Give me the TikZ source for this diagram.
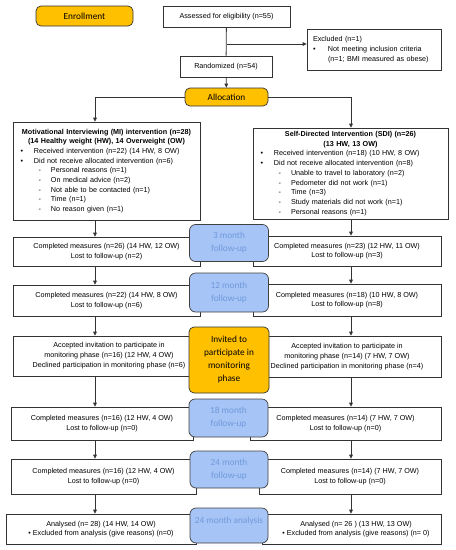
\documentclass[tikz,border=0pt]{standalone}
\usepackage{fontspec}
\setmainfont{Liberation Sans}
\newfontfamily\calib{Carlito}
\usepackage{xcolor}
\usetikzlibrary{arrows.meta,positioning}
\definecolor{arancio}{HTML}{FFC000}
\definecolor{azzurro}{HTML}{A6C4F6}
\definecolor{testoblu}{HTML}{6F9ADC}
\definecolor{linea}{HTML}{333333}
\newcommand{\bul}{\hspace*{7.5pt}\makebox[13.5pt][l]{•}}
\newcommand{\dsh}{\hspace*{25.5pt}\makebox[12.5pt][l]{-}}

\begin{document}
\begin{tikzpicture}[x=1pt,y=-1pt,
    wbox/.style={draw=linea, fill=white, line width=0.7pt, inner sep=1pt, align=center,
      font=\fontsize{7.2}{9.7}\selectfont},
    obox/.style={draw=black!80, fill=arancio, line width=0.7pt, rounded corners=5pt,
      align=center, font=\calib\fontsize{9.3}{13}\selectfont},
    bbox/.style={draw=black!75, fill=azzurro, line width=0.7pt, rounded corners=6pt,
      align=center, text=testoblu, font=\calib\fontsize{9.3}{13}\selectfont},
    arr/.style={-{Triangle[length=4pt,width=3.6pt]}, draw=linea, line width=0.8pt},
    lin/.style={draw=linea, line width=0.8pt}]
  \useasboundingbox (0,0) rectangle (456,550);
  % colonne delle frecce
  \coordinate (lx) at (95,0);
  \coordinate (rx) at (351,0);
  % iscrizione
  \node[obox, minimum width=97pt, minimum height=20pt] (enroll) at (84.5,16) {Enrollment};
  \node[wbox, minimum width=127pt, minimum height=21pt] (assess) at (226.5,16.5) {Assessed for eligibility (n=55)};
  \node[wbox, minimum width=134pt, minimum height=41pt, text width=122pt, inner xsep=6pt, align=left,
    font=\fontsize{7.2}{10}\selectfont] (excl) at (374,49.5)
    {Excluded (n=1)\\\makebox[15pt][l]{•}Not meeting inclusion criteria\\\hspace*{15pt}(n=1; BMI measured as obese)};
  \node[wbox, minimum width=92pt, minimum height=21pt] (rand) at (226,66.5) {Randomized (n=54)};
  \node[obox, minimum width=83pt, minimum height=18pt] (alloc) at (226.5,97) {Allocation};
  % gruppi
  \node[wbox, minimum width=187pt, minimum height=98pt, text width=187pt, inner xsep=0pt, align=left] (mi) at (106.5,171)
    {{\centering\bfseries Motivational Interviewing (MI) intervention (n=28)\\(14 Healthy weight (HW), 14 Overweight (OW)\par}
    \bul Received intervention (n=22) (14 HW, 8 OW)\\
    \bul Did not receive allocated intervention (n=6)\\
    \dsh Personal reasons (n=1)\\
    \dsh On medical advice (n=2)\\
    \dsh Not able to be contacted (n=1)\\
    \dsh Time (n=1)\\
    \dsh No reason given (n=1)};
  \node[wbox, minimum width=195pt, minimum height=91pt, text width=195pt, inner xsep=0pt, align=left] (sdi) at (350.5,173.5)
    {{\centering\bfseries Self-Directed Intervention (SDI) (n=26)\\(13 HW, 13 OW)\par}
    \bul Received intervention (n=18) (10 HW, 8 OW)\\
    \bul Did not receive allocated intervention (n=8)\\
    \dsh Unable to travel to laboratory (n=2)\\
    \dsh Pedometer did not work (n=1)\\
    \dsh Time (n=3)\\
    \dsh Study materials did not work (n=1)\\
    \dsh Personal reasons (n=1)};
  % follow-up
  \node[wbox, minimum width=187pt, minimum height=29pt] (fu3l) at (106.5,251.5) {Completed measures (n=26) (14 HW, 12 OW)\\Lost to follow-up (n=2)};
  \node[wbox, minimum width=188pt, minimum height=30pt] (fu3r) at (347,251) {Completed measures (n=23) (12 HW, 11 OW)\\Lost to follow-up (n=3)};
  \node[wbox, minimum width=187pt, minimum height=31pt] (fu12l) at (106.5,300.5) {Completed measures (n=22) (14 HW, 8 OW)\\Lost to follow-up (n=6)};
  \node[wbox, minimum width=188pt, minimum height=32pt] (fu12r) at (347,300) {Completed measures (n=18) (10 HW, 8 OW)\\Lost to follow-up (n=8)};
  \node[wbox, minimum width=192pt, minimum height=40pt, font=\fontsize{7.2}{10}\selectfont] (invl) at (109,356)
    {Accepted invitation to participate in\\monitoring phase (n=16) (12 HW, 4 OW)\\Declined participation in monitoring phase (n=6)};
  \node[wbox, minimum width=188pt, minimum height=41pt, font=\fontsize{7.2}{10}\selectfont] (invr) at (347,356.5)
    {Accepted invitation to participate in\\monitoring phase (n=14) (7 HW, 7 OW)\\Declined participation in monitoring phase (n=4)};
  \node[wbox, minimum width=182pt, minimum height=33pt] (fu18l) at (102,423.5) {Completed measures (n=16) (12 HW, 4 OW)\\Lost to follow-up (n=0)};
  \node[wbox, minimum width=191pt, minimum height=33pt] (fu18r) at (345.5,423.5) {Completed measures (n=14) (7 HW, 7 OW)\\Lost to follow-up (n=0)};
  \node[wbox, minimum width=185pt, minimum height=35pt] (fu24l) at (103.5,476.5) {Completed measures (n=16) (12 HW, 4 OW)\\Lost to follow-up (n=0)};
  \node[wbox, minimum width=182pt, minimum height=35pt] (fu24r) at (350,476.5) {Completed measures (n=14) (7 HW, 7 OW)\\Lost to follow-up (n=0)};
  \node[wbox, minimum width=190pt, minimum height=30pt] (anal) at (101,529) {Analysed (n= 28) (14 HW, 14 OW)\\{\scriptsize•} Excluded from analysis (give reasons) (n=0)};
  \node[wbox, minimum width=179pt, minimum height=30pt] (anar) at (351.5,529) {\hspace*{9pt}Analysed (n= 26 ) (13 HW, 13 OW)\\\hspace*{9pt}{\scriptsize•} Excluded from analysis (give reasons) (n= 0)};
  % fasi centrali
  \node[bbox, minimum width=79pt, minimum height=37pt] (ph3) at (229,243) {3 month\\follow-up};
  \node[bbox, minimum width=79pt, minimum height=39pt] (ph12) at (229,292.5) {12 month\\follow-up};
  \node[obox, minimum width=80pt, minimum height=66pt] (phinv) at (229,360) {Invited to\\participate in\\monitoring\\phase};
  \node[bbox, minimum width=79pt, minimum height=38pt] (ph18) at (228.5,418) {18 month\\follow-up};
  \node[bbox, minimum width=78pt, minimum height=37pt] (ph24) at (229,469.5) {24 month\\follow-up};
  \node[bbox, minimum width=78pt, minimum height=35pt] (phana) at (229,525.5) {\raisebox{11pt}{24 month analysis}};
  % frecce
  \coordinate (br) at (227,44);
  \draw[lin] (assess) -- (rand);
  \draw[arr] (br) -- (br -| excl.west);
  \draw[arr] (rand) -- (alloc);
  \draw[arr] (alloc.west) -| (lx |- mi.north);
  \draw[arr] (alloc.east) -| (rx |- sdi.north);
  \draw[arr] (lx |- mi.south) -- (lx |- fu3l.north);
  \draw[arr] (lx |- fu3l.south) -- (lx |- fu12l.north);
  \draw[arr] (lx |- fu12l.south) -- (lx |- invl.north);
  \draw[arr] (lx |- invl.south) -- (lx |- fu18l.north);
  \draw[arr] (lx |- fu18l.south) -- (lx |- fu24l.north);
  \draw[arr] (lx |- fu24l.south) -- (lx |- anal.north);
  \draw[arr] (rx |- sdi.south) -- (rx |- fu3r.north);
  \draw[arr] (rx |- fu3r.south) -- (rx |- fu12r.north);
  \draw[arr] (rx |- fu12r.south) -- (rx |- invr.north);
  \draw[arr] (rx |- invr.south) -- (rx |- fu18r.north);
  \draw[arr] (rx |- fu18r.south) -- (rx |- fu24r.north);
  \draw[arr] (rx |- fu24r.south) -- (rx |- anar.north);
\end{tikzpicture}
\end{document}
